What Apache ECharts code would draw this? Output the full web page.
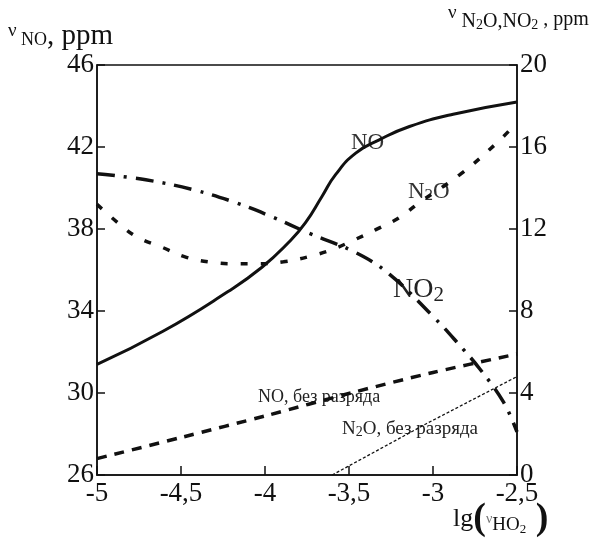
<!DOCTYPE html>
<html>
<head>
<meta charset="utf-8">
<script src="https://cdn.jsdelivr.net/npm/echarts@6/dist/echarts.min.js"></script>
<style>
  html, body { margin: 0; padding: 0; background: #fff; }
  #chart { width: 612px; height: 548px; }
</style>
</head>
<body>
<div id="chart"></div>
<script>
// NO with discharge, left axis (ppm)
const noX = [-5, -4.61, -4.22, -4.02, -3.86, -3.76, -3.66, -3.58, -3.46, -3.32, -3.14, -2.88, -2.5];
const noY = [31.4, 33.0, 34.95, 36.12, 37.34, 38.3, 39.6, 40.65, 41.7, 42.35, 43.0, 43.6, 44.2];
// N2O with discharge, right axis
const n2oX = [-5, -4.875, -4.76, -4.61, -4.48, -4.34, -4.18, -4.04, -3.89, -3.74, -3.6, -3.46, -3.34, -3.2, -3.08, -2.84, -2.62, -2.5];
const n2oY = [13.2, 12.3, 11.6, 11.1, 10.65, 10.4, 10.3, 10.3, 10.4, 10.65, 11.0, 11.5, 11.97, 12.55, 13.3, 14.65, 16.2, 17.2];
// NO2 with discharge, right axis
const no2X = [-5, -4.71, -4.42, -4.18, -3.96, -3.74, -3.46, -3.26, -3.0, -2.86, -2.72, -2.58, -2.5];
const no2Y = [14.7, 14.4, 13.9, 13.3, 12.6, 11.8, 10.85, 9.8, 7.74, 6.5, 5.16, 3.55, 2.1];
// NO without discharge, left axis
const noOffX = [-5, -4.49, -3.99, -3.49, -3.0, -2.5];
const noOffY = [26.8, 27.85, 28.9, 30.0, 31.0, 31.9];
// N2O without discharge, right axis
const n2oOffX = [-3.6, -3.04, -2.5];
const n2oOffY = [0, 2.5, 4.8];

const pairs = (xs, ys) => xs.map((x, i) => [x, ys[i]]);
const serif = "Liberation Serif";
const ink = "#111";

const chart = echarts.init(document.getElementById("chart"));
chart.setOption({
  animation: false,
  backgroundColor: "#fff",
  grid: { left: 97, right: 95, top: 65, bottom: 73, show: true, borderColor: ink, borderWidth: 1.5 },
  xAxis: {
    type: "value", min: -5, max: -2.5, interval: 0.5,
    axisLine: { lineStyle: { color: ink, width: 1.5 } },
    axisTick: { inside: true, length: 9, lineStyle: { color: ink, width: 1.5 } },
    splitLine: { show: false },
    axisLabel: { color: ink, fontFamily: serif, fontSize: 27, margin: 5,
      formatter: v => String(v).replace(".", ",") }
  },
  yAxis: [
    {
      type: "value", min: 26, max: 46, interval: 4, position: "left",
      axisLine: { show: true, lineStyle: { color: ink, width: 1.5 } },
      axisTick: { show: true, inside: true, length: 8, lineStyle: { color: ink, width: 1.5 } },
      splitLine: { show: false },
      axisLabel: { color: ink, fontFamily: serif, fontSize: 27, margin: 3 }
    },
    {
      type: "value", min: 0, max: 20, interval: 4, position: "right",
      axisLine: { show: true, lineStyle: { color: ink, width: 1.5 } },
      axisTick: { show: true, inside: true, length: 8, lineStyle: { color: ink, width: 1.5 } },
      splitLine: { show: false },
      axisLabel: { color: ink, fontFamily: serif, fontSize: 27, margin: 3 }
    }
  ],
  series: [
    { name: "NO", type: "line", yAxisIndex: 0, smooth: 0.5, symbol: "none",
      data: pairs(noX, noY), lineStyle: { color: ink, width: 3 } },
    { name: "N2O", type: "line", yAxisIndex: 1, smooth: 0.4, symbol: "none",
      data: pairs(n2oX, n2oY), lineStyle: { color: ink, width: 3.5, type: [7, 13] } },
    { name: "NO2", type: "line", yAxisIndex: 1, smooth: 0.4, symbol: "none",
      data: pairs(no2X, no2Y), lineStyle: { color: ink, width: 3.5, type: [18, 9, 3, 9] } },
    { name: "NO off", type: "line", yAxisIndex: 0, smooth: 0.3, symbol: "none",
      data: pairs(noOffX, noOffY), lineStyle: { color: ink, width: 3.5, type: [10, 8] } },
    { name: "N2O off", type: "line", yAxisIndex: 1, symbol: "none",
      data: pairs(n2oOffX, n2oOffY), lineStyle: { color: ink, width: 1.3, type: [3, 2] } }
  ],
  graphic: [
    { type: "text", left: 8, top: 22, style: { rich: {
        v: { fontFamily: serif, fontSize: 19, fill: ink, padding: [0, 0, 10, 0] },
        s: { fontFamily: serif, fontSize: 18, fill: ink, padding: [8, 0, 0, 0] },
        a: { fontFamily: serif, fontSize: 29, fill: ink } },
      text: "{v|ν}{s| NO}{a|, ppm}" } },
    { type: "text", left: 448, top: 4, style: { rich: {
        v: { fontFamily: serif, fontSize: 19, fill: ink, padding: [0, 0, 8, 0] },
        s: { fontFamily: serif, fontSize: 20, fill: ink, padding: [8, 0, 0, 0] },
        ss: { fontFamily: serif, fontSize: 14, fill: ink, padding: [16, 0, 0, 0] },
        a: { fontFamily: serif, fontSize: 20, fill: ink, padding: [4, 0, 0, 0] } },
      text: "{v|ν}{s| N}{ss|2}{s|O,NO}{ss|2}{a| , ppm}" } },
    { type: "text", left: 453, top: 500, style: { rich: {
        a: { fontFamily: serif, fontSize: 26, fill: ink },
        p: { fontFamily: serif, fontSize: 38, fill: ink, fontWeight: "bold" },
        v: { fontFamily: serif, fontSize: 14, fill: "#777" },
        s: { fontFamily: serif, fontSize: 19, fill: ink, padding: [12, 0, 0, 0] },
        ss: { fontFamily: serif, fontSize: 13, fill: ink, padding: [22, 0, 0, 0] } },
      text: "{a|lg}{p|(}{v|ν}{s|HO}{ss|2}{p| )}" } },
    { type: "text", left: 351, top: 131, style: { text: "NO", fontFamily: serif, fontSize: 23, fill: "#333" } },
    { type: "text", left: 408, top: 180, style: { rich: {
        a: { fontFamily: serif, fontSize: 23, fill: "#333" },
        s: { fontFamily: serif, fontSize: 17, fill: "#333", padding: [8, 0, 0, 0] } },
      text: "{a|N}{s|2}{a|O}" } },
    { type: "text", left: 393, top: 276, style: { rich: {
        a: { fontFamily: serif, fontSize: 28, fill: "#222" },
        s: { fontFamily: serif, fontSize: 21, fill: "#222", padding: [10, 0, 0, 0] } },
      text: "{a|NO}{s|2}" } },
    { type: "text", left: 258, top: 388, style: { text: "NO, без разряда", fontFamily: serif, fontSize: 18, fill: "#222" } },
    { type: "text", left: 342, top: 420, style: { rich: {
        a: { fontFamily: serif, fontSize: 19, fill: "#222" },
        s: { fontFamily: serif, fontSize: 14, fill: "#222", padding: [6, 0, 0, 0] } },
      text: "{a|N}{s|2}{a|O, без разряда}" } }
  ]
});
</script>
</body>
</html>
